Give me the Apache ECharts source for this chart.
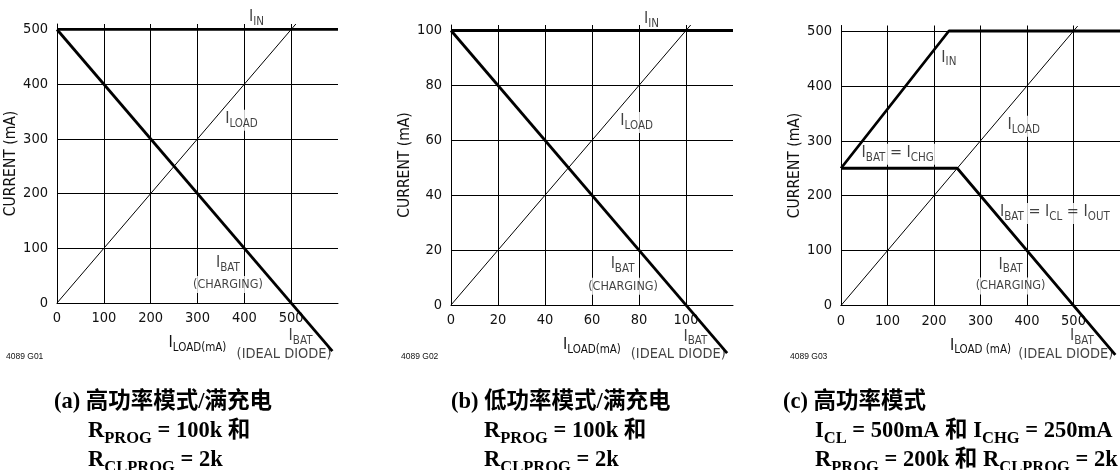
<!DOCTYPE html>
<html>
<head>
<meta charset="utf-8">
<script src="https://cdn.jsdelivr.net/npm/echarts@6/dist/echarts.min.js"></script>
<style>
  html, body { margin: 0; padding: 0; background: #fff; }
  #chart { width: 1120px; height: 470px; }
</style>
</head>
<body>
<div id="chart"></div>
<script>
const NARROW = '"Liberation Sans Narrow","Arial Narrow","DejaVu Sans Condensed","Liberation Sans",sans-serif';
const SERIF = '"Liberation Serif","Times New Roman","Noto Sans CJK SC",serif';

// (a) high-power mode, full charge — currents in mA against load current
const loadA = [[0, 0], [510, 510]];
const inA   = [[0, 500], [600, 500]];
const batA  = [[0, 500], [588, -88]];

// (b) low-power mode, full charge
const loadB = [[0, 0], [102, 102]];
const inB   = [[0, 100], [120, 100]];
const batB  = [[0, 100], [117.5, -17.5]];

// (c) high-power mode, ICL = 500mA, ICHG = 250mA
const loadC = [[0, 0], [509, 509]];
const inC   = [[0, 250], [232, 500], [600, 500]];
const batC  = [[0, 250], [250, 250], [590, -90]];

// axis ranges: [min, max, interval]
const xRangeA = [0, 600, 100], yRangeA = [0, 510, 100];
const xRangeB = [0, 120, 20],  yRangeB = [0, 102, 20];
const xRangeC = [0, 600, 100], yRangeC = [0, 510, 100];

// curve annotations, anchored in data units: [x, y, rich text]
const notesA = [
  [426, 520, '{m|I}{s|IN}'],
  [394, 334, '{m|I}{s|LOAD}'],
  [365, 70, '{m|I}{s|BAT}'],
  [365, 34, '{p|(CHARGING)}'],
  [520, -63, '{m|I}{s|BAT}'],
  [485, -94, '{q|(IDEAL DIODE)}']
];
const notesB = [
  [85.3, 103.7, '{m|I}{s|IN}'],
  [79, 66.5, '{m|I}{s|LOAD}'],
  [73, 14.3, '{m|I}{s|BAT}'],
  [73.2, 6.8, '{p|(CHARGING)}'],
  [104, -12, '{m|I}{s|BAT}'],
  [96.7, -18, '{q|(IDEAL DIODE)}']
];
const notesC = [
  [232, 449, '{m|I}{s|IN}'],
  [393, 326.6, '{m|I}{s|LOAD}'],
  [122, 275.6, '{m|I}{s|BAT}{m| = I}{s|CHG}'],
  [460, 167.6, '{m|I}{s|BAT}{m| = I}{s|CL}{m| = I}{s|OUT}'],
  [364.6, 72, '{m|I}{s|BAT}'],
  [364.6, 35.5, '{p|(CHARGING)}'],
  [518, -58.7, '{m|I}{s|BAT}'],
  [483.6, -88.7, '{q|(IDEAL DIODE)}']
];

const xNames = ['{m|I}{s|LOAD(mA)}', '{m|I}{s|LOAD(mA)}', '{m|I}{s|LOAD (mA)}'];
const yName = 'CURRENT (mA)';
const figIds = ['4089 G01', '4089 G02', '4089 G03'];

const captions = [
  ['{b|(a) 高功率模式/满充电}', '{b|R}{bs|PROG}{b| = 100k 和}', '{b|R}{bs|CLPROG}{b| = 2k}'],
  ['{b|(b) 低功率模式/满充电}', '{b|R}{bs|PROG}{b| = 100k 和}', '{b|R}{bs|CLPROG}{b| = 2k}'],
  ['{b|(c) 高功率模式}', '{b|I}{bs|CL}{b| = 500mA 和 I}{bs|CHG}{b| = 250mA}', '{b|R}{bs|PROG}{b| = 200k 和 R}{bs|CLPROG}{b| = 2k}']
];

const INK = '#111';
const rich = {
  m: { fontFamily: NARROW, fontSize: 16, lineHeight: 16, verticalAlign: 'top', color: INK },
  s: { fontFamily: NARROW, fontSize: 11.5, lineHeight: 19, verticalAlign: 'bottom', color: INK },
  p: { fontFamily: NARROW, fontSize: 12.5, lineHeight: 15, color: INK },
  q: { fontFamily: NARROW, fontSize: 14.5, lineHeight: 15, color: INK }
};
const capRich = {
  b: { fontFamily: SERIF, fontWeight: 'bold', fontSize: 22.5, lineHeight: 23, verticalAlign: 'top', color: '#000' },
  bs: { fontFamily: SERIF, fontWeight: 'bold', fontSize: 16.5, lineHeight: 27, verticalAlign: 'bottom', color: '#000' }
};

// panel frames in px
const grids = [
  { left: 57, top: 24, width: 281, height: 279 },
  { left: 451, top: 25, width: 282, height: 280 },
  { left: 841, top: 25.5, width: 281.5, height: 280 }
];
const capLeft = [[54, 88], [451, 484], [783, 815]];
const figLeft = [6, 401, 790];

function xAxis(i, r) {
  return {
    type: 'value', gridIndex: i, min: r[0], max: r[1], interval: r[2],
    axisLine: { lineStyle: { color: '#000', width: 1 } },
    axisTick: { show: false },
    axisLabel: { fontFamily: NARROW, fontSize: 14.5, color: INK, margin: 8, showMaxLabel: false },
    splitLine: { show: true, showMaxLine: false, lineStyle: { color: '#000', width: 1 } },
    name: xNames[i], nameLocation: 'middle', nameGap: 32,
    nameTextStyle: { rich: rich }
  };
}
function yAxis(i, r) {
  return {
    type: 'value', gridIndex: i, min: r[0], max: r[1], interval: r[2],
    axisLine: { show: true, lineStyle: { color: '#000', width: 1 } },
    axisTick: { show: false },
    axisLabel: { fontFamily: NARROW, fontSize: 14.5, color: INK, margin: 9, showMaxLabel: false },
    splitLine: { show: true, showMaxLine: false, lineStyle: { color: '#000', width: 1 } },
    name: yName, nameLocation: 'middle', nameGap: 32,
    nameTextStyle: { fontFamily: NARROW, fontSize: 15.5, color: INK }
  };
}
// curves sit above the annotation boxes so the white label backgrounds only mask grid lines
function curve(i, data, w) {
  return {
    type: 'line', xAxisIndex: i, yAxisIndex: i, data: data, clip: false,
    showSymbol: false, silent: true, animation: false, z: 6,
    lineStyle: { color: '#000', width: w }
  };
}
function notes(i, list) {
  return {
    type: 'scatter', xAxisIndex: i, yAxisIndex: i, clip: false, silent: true, animation: false,
    symbolSize: 1, itemStyle: { color: 'rgba(0,0,0,0)' }, z: 4,
    label: { show: true, position: 'inside', backgroundColor: '#fff', padding: [1, 2], rich: rich, color: INK },
    data: list.map(n => ({ value: [n[0], n[1]], label: { formatter: n[2] } }))
  };
}

const titles = [];
captions.forEach((lines, i) => {
  lines.forEach((t, k) => {
    titles.push({
      text: t, left: k === 0 ? capLeft[i][0] : capLeft[i][1], top: 391 + k * 29, padding: 0,
      textStyle: { rich: capRich }
    });
  });
  titles.push({
    text: figIds[i], left: figLeft[i], top: 352, padding: 0,
    textStyle: { fontFamily: '"Liberation Sans",sans-serif', fontSize: 8.5, fontWeight: 'normal', color: INK }
  });
});

const chart = echarts.init(document.getElementById('chart'), null, { renderer: 'canvas' });
chart.setOption({
  animation: false,
  backgroundColor: '#fff',
  title: titles,
  grid: grids,
  xAxis: [xAxis(0, xRangeA), xAxis(1, xRangeB), xAxis(2, xRangeC)],
  yAxis: [yAxis(0, yRangeA), yAxis(1, yRangeB), yAxis(2, yRangeC)],
  series: [
    curve(0, loadA, 1), curve(0, inA, 2.8), curve(0, batA, 2.8), notes(0, notesA),
    curve(1, loadB, 1), curve(1, inB, 2.8), curve(1, batB, 2.8), notes(1, notesB),
    curve(2, loadC, 1), curve(2, inC, 2.8), curve(2, batC, 2.8), notes(2, notesC)
  ]
});
</script>
</body>
</html>
